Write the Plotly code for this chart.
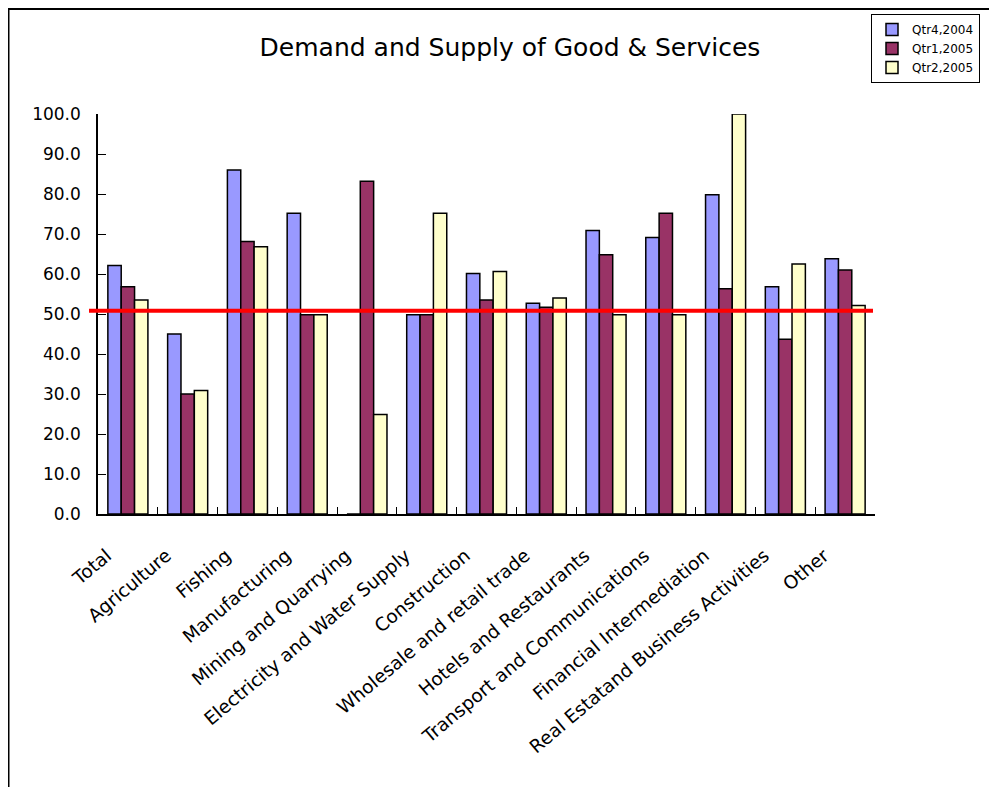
import plotly.graph_objects as go

categories = ["Total", "Agriculture", "Fishing", "Manufacturing", "Mining and Quarrying",
              "Electricity and Water Supply", "Construction", "Wholesale and retail trade",
              "Hotels and Restaurants", "Transport and Communications",
              "Financial Intermediation", "Real Estatand Business Activities", "Other"]
qtr4_2004 = [62.1, 45.0, 86.0, 75.2, 0.0, 49.8, 60.1, 52.7, 70.9, 69.1, 79.8, 56.8, 63.8]
qtr1_2005 = [56.8, 30.0, 68.1, 49.8, 83.2, 49.8, 53.5, 51.7, 64.8, 75.2, 56.3, 43.7, 61.0]
qtr2_2005 = [53.5, 30.9, 66.8, 49.8, 24.9, 75.2, 60.6, 54.0, 49.8, 49.8, 100.0, 62.5, 52.1]
series_names = ["Qtr4,2004", "Qtr1,2005", "Qtr2,2005"]
threshold = 50.8
y_ticks = [0, 10, 20, 30, 40, 50, 60, 70, 80, 90, 100]

colors = ["#9999FF", "#993366", "#FFFFCC"]
FONT = "DejaVu Sans"

fig = go.Figure()
for name, vals, col in zip(series_names, [qtr4_2004, qtr1_2005, qtr2_2005], colors):
    fig.add_trace(go.Bar(x=categories, y=vals, name=name,
                         marker=dict(color=col, line=dict(color="black", width=1.5))))

# figure is placed at (8,8) in the page; all pixel positions below are figure coords
W, H = 989, 779
L, R, T, B = 90, 122, 106, 273
pw, ph = W - L - R, H - T - B

def px_x(p):
    return (p - L) / pw

def px_y(p):
    return (H - B - p) / ph

fig.update_layout(
    width=W, height=H,
    margin=dict(l=L, r=R, t=T, b=B, autoexpand=False),
    paper_bgcolor="white", plot_bgcolor="white",
    font=dict(family=FONT, color="black"),
    barmode="group", bargap=0.33, bargroupgap=0,
    title=dict(text="Demand and Supply of Good & Services", x=502 / W, xref="container",
               xanchor="center", y=1 - 39 / H, yref="container", yanchor="middle",
               font=dict(size=25, family=FONT, color="black")),
    legend=dict(x=px_x(863), y=px_y(6), xanchor="left", yanchor="top",
                bordercolor="black", borderwidth=1, bgcolor="white",
                font=dict(size=12, family=FONT), tracegroupgap=0, itemwidth=30),
    showlegend=True,
)
fig.update_xaxes(showline=True, linecolor="black", linewidth=1.5, ticks="inside",
                 tickson="boundaries", ticklen=7, tickcolor="black", tickangle=-40,
                 tickfont=dict(size=18.5, family=FONT), showgrid=False,
                 ticklabelshift=-21, ticklabelstandoff=22)
fig.update_yaxes(range=[0, 100], tickvals=y_ticks, tickformat=".1f", showline=True,
                 linecolor="black", linewidth=1.5, ticks="inside", ticklen=8,
                 tickcolor="black", showgrid=False, zeroline=False,
                 tickfont=dict(size=17, family=FONT), ticklabelstandoff=12)

fig.add_shape(type="line", xref="paper", yref="y", x0=px_x(81), x1=px_x(865),
              y0=threshold, y1=threshold, line=dict(color="red", width=4))
fig.add_shape(type="path", xref="paper", yref="paper",
              path=f"M {px_x(0.5)},{px_y(800)} L {px_x(0.5)},{px_y(1)} L {px_x(1010)},{px_y(1)}",
              line=dict(color="black", width=2))

fig.write_html("out.html")
